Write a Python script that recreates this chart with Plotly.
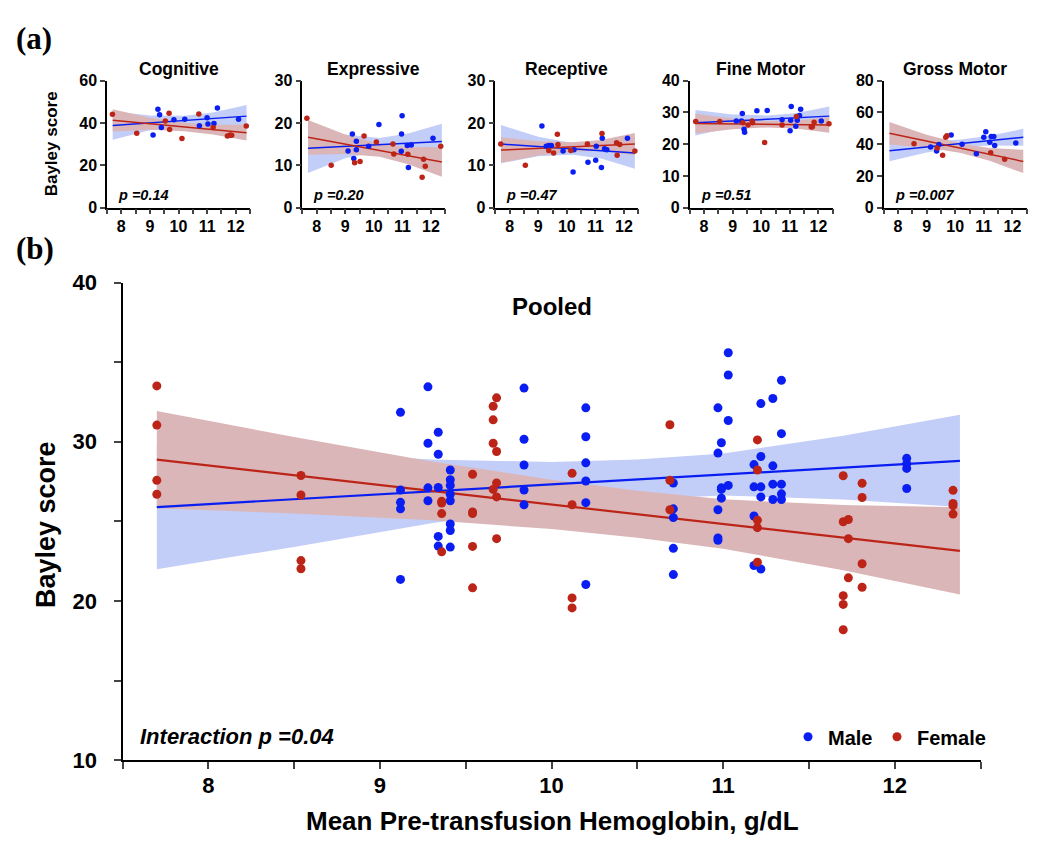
import plotly.graph_objects as go

# ---------------- DATA ----------------
# Pooled panel (b)
pooled_male_x = [9.12, 9.12, 9.12, 9.12, 9.12,
                 9.28, 9.28, 9.28, 9.28,
                 9.34, 9.34, 9.34, 9.34, 9.34,
                 9.41, 9.41, 9.41, 9.41, 9.41, 9.41, 9.41, 9.41,
                 9.84, 9.84, 9.84, 9.84, 9.84,
                 10.20, 10.20, 10.20, 10.20, 10.20, 10.20,
                 10.71, 10.71, 10.71, 10.71, 10.71,
                 10.97, 10.97, 10.97, 10.97, 10.97,
                 10.99, 10.99, 10.99, 10.99,
                 11.03, 11.03, 11.03, 11.03,
                 11.18, 11.18, 11.18, 11.18,
                 11.22, 11.22, 11.22, 11.22, 11.22,
                 11.29, 11.29, 11.29, 11.29,
                 11.34, 11.34, 11.34, 11.34, 11.34,
                 12.07, 12.07, 12.07, 12.07]
pooled_male_y = [31.85, 26.97, 26.20, 25.79, 21.36,
                 33.45, 29.91, 27.11, 26.30,
                 30.60, 29.22, 27.13, 24.06, 23.45,
                 28.23, 27.62, 27.26, 26.71, 26.30, 24.84, 24.43, 23.39,
                 33.37, 30.16, 28.54, 26.97, 26.04,
                 32.13, 30.32, 28.68, 27.54, 26.18, 21.04,
                 27.41, 25.79, 25.24, 23.31, 21.66,
                 32.13, 29.29, 25.73, 23.96, 23.82,
                 29.94, 27.11, 27.01, 26.46,
                 35.59, 34.19, 31.34, 27.26,
                 28.57, 27.17, 25.34, 22.23,
                 32.40, 29.08, 27.17, 26.54, 22.01,
                 32.72, 28.49, 27.34, 26.38,
                 33.86, 30.51, 27.34, 26.73, 26.38,
                 28.96, 28.63, 28.33, 27.07]
pooled_female_x = [7.70, 7.70, 7.70, 7.70,
                   8.54, 8.54, 8.54, 8.54,
                   9.36, 9.36, 9.36, 9.36,
                   9.54, 9.54, 9.54, 9.54, 9.54,
                   9.66, 9.66, 9.66, 9.66,
                   9.68, 9.68, 9.68, 9.68, 9.68,
                   10.12, 10.12, 10.12, 10.12,
                   10.69, 10.69, 10.69,
                   11.20, 11.20, 11.20, 11.20, 11.20,
                   11.70, 11.70, 11.70, 11.70, 11.70,
                   11.73, 11.73, 11.73,
                   11.81, 11.81, 11.81, 11.81,
                   12.34, 12.34, 12.34, 12.34]
pooled_female_y = [33.51, 31.05, 27.58, 26.71,
                   27.88, 26.66, 22.54, 22.03,
                   26.26, 26.16, 25.49, 23.09,
                   27.96, 25.59, 25.49, 23.43, 20.83,
                   32.23, 31.38, 29.91, 27.01,
                   32.76, 29.39, 27.41, 26.54, 23.92,
                   28.02, 26.05, 20.20, 19.57,
                   31.07, 27.58, 25.73,
                   30.12, 28.23, 25.08, 24.61, 22.44,
                   27.87, 24.98, 20.34, 19.79, 18.20,
                   25.12, 23.92, 21.46,
                   27.40, 26.50, 22.34, 20.87,
                   26.95, 26.13, 25.99, 25.46]
pooled_band_x = [7.70, 8.50, 9.30, 10.00, 10.50, 11.00, 11.70, 12.38]
pooled_male_fit = [25.90, 26.40, 26.89, 27.33, 27.64, 27.95, 28.38, 28.80]
pooled_male_lo = [22.00, 23.40, 24.89, 25.93, 26.39, 26.63, 26.38, 25.90]
pooled_male_hi = [29.80, 29.40, 28.89, 28.73, 28.89, 29.27, 30.38, 31.70]
pooled_female_fit = [28.88, 27.90, 26.92, 26.07, 25.45, 24.84, 23.98, 23.15]
pooled_female_lo = [25.83, 25.50, 25.07, 24.52, 23.97, 23.29, 21.93, 20.41]
pooled_female_hi = [31.93, 30.30, 28.77, 27.62, 26.93, 26.39, 26.03, 25.89]

# Sub-panels (a)
panel_titles = ["Cognitive", "Expressive", "Receptive", "Fine Motor", "Gross Motor"]
panel_ymax = [60, 30, 30, 40, 80]
panel_p = ["0.14", "0.20", "0.47", "0.51", "0.007"]
panel_band_x = [7.70, 9.00, 10.20, 11.20, 12.38]

cog_male_x = [9.11, 9.28, 9.34, 9.40, 9.84, 10.22, 10.73, 11.00, 11.03, 11.24, 11.36, 12.10]
cog_male_y = [34.3, 46.5, 43.8, 37.8, 41.5, 41.7, 38.7, 42.4, 39.5, 39.7, 47.0, 41.7]
cog_female_x = [7.69, 8.54, 9.54, 9.67, 9.69, 10.12, 10.71, 11.21, 11.71, 11.80, 11.86, 12.37]
cog_female_y = [44.1, 35.1, 40.9, 44.6, 36.9, 32.7, 44.2, 37.8, 33.8, 34.3, 34.2, 38.5]
cog_male_fit = [38.8, 40.02, 41.15, 42.09, 43.2]
cog_male_hw = [6.7, 3.5, 2.2, 2.8, 5.3]
cog_female_fit = [41.2, 39.59, 38.10, 36.86, 35.4]
cog_female_hw = [5.2, 2.8, 2.0, 2.3, 3.7]

exp_male_x = [9.10, 9.25, 9.30, 9.39, 9.39, 9.82, 10.18, 10.99, 10.97, 10.96, 11.17, 11.21, 11.31, 12.07]
exp_male_y = [13.35, 17.4, 11.6, 15.7, 13.7, 14.5, 19.6, 21.7, 17.4, 13.3, 14.7, 9.5, 14.8, 16.4]
exp_female_x = [7.66, 8.51, 9.33, 9.52, 9.66, 10.09, 10.67, 10.70, 11.19, 11.74, 11.69, 11.80, 12.34]
exp_female_y = [21.1, 10.0, 10.6, 10.9, 16.9, 15.5, 15.0, 12.7, 12.6, 11.45, 7.2, 9.8, 14.5]
exp_male_fit = [14.0, 14.44, 14.85, 15.20, 15.6]
exp_male_hw = [5.8, 2.8, 1.6, 2.3, 4.2]
exp_female_fit = [16.6, 14.99, 13.50, 12.26, 10.8]
exp_female_hw = [4.1, 2.3, 1.5, 2.0, 3.5]

rec_male_x = [9.13, 9.28, 9.37, 9.46, 9.87, 10.22, 10.25, 10.74, 11.01, 11.03, 11.24, 11.21, 11.32, 11.40, 12.12]
rec_male_y = [19.3, 14.5, 14.65, 14.7, 13.4, 8.4, 13.7, 10.7, 11.2, 14.5, 16.4, 9.5, 13.9, 13.7, 16.4]
rec_female_x = [7.69, 8.55, 9.37, 9.54, 9.67, 9.69, 10.14, 10.72, 11.23, 11.74, 11.76, 11.85, 12.38]
rec_female_y = [15.0, 10.0, 13.5, 12.9, 17.3, 14.9, 13.5, 15.0, 17.5, 15.3, 12.4, 14.9, 13.35]
rec_male_fit = [15.0, 14.42, 13.88, 13.43, 12.9]
rec_male_hw = [4.5, 2.3, 1.4, 1.8, 3.7]
rec_female_fit = [13.6, 13.99, 14.35, 14.65, 15.0]
rec_female_hw = [3.0, 1.7, 1.1, 1.3, 2.6]

fine_male_x = [9.13, 9.31, 9.34, 9.40, 9.42, 9.85, 10.21, 10.73, 11.01, 11.03, 11.05, 11.21, 11.26, 11.34, 11.38, 12.10]
fine_male_y = [27.3, 27.3, 29.6, 24.7, 23.7, 30.5, 30.6, 27.7, 24.2, 27.5, 31.8, 25.6, 27.5, 29.0, 31.0, 27.3]
fine_female_x = [7.71, 8.55, 9.36, 9.54, 9.68, 9.70, 10.12, 10.73, 11.23, 11.75, 11.79, 11.85, 12.37]
fine_female_y = [27.1, 27.1, 26.7, 26.0, 27.3, 26.7, 20.5, 26.0, 28.7, 25.4, 25.5, 26.9, 26.4]
fine_male_fit = [26.7, 27.28, 27.82, 28.27, 28.8]
fine_male_hw = [4.0, 2.0, 1.2, 1.4, 3.0]
fine_female_fit = [26.45, 26.34, 26.24, 26.15, 26.05]
fine_female_hw = [3.1, 1.7, 1.0, 1.2, 2.5]

gross_male_x = [9.14, 9.35, 9.43, 9.86, 10.24, 10.74, 11.00, 11.07, 11.21, 11.26, 11.35, 11.38, 12.12]
gross_male_y = [38.2, 35.6, 39.7, 45.8, 39.9, 34.0, 44.3, 47.8, 41.1, 44.8, 44.8, 39.1, 40.7]
gross_female_x = [8.56, 9.37, 9.56, 9.67, 9.71, 11.24, 11.73]
gross_female_y = [40.3, 37.6, 33.0, 44.3, 45.2, 34.6, 30.5]
gross_male_fit = [35.8, 38.21, 40.44, 42.21, 44.3]
gross_male_hw = [6.6, 3.5, 2.4, 3.0, 5.3]
gross_female_fit = [46.8, 41.88, 37.35, 33.56, 29.1]
gross_female_hw = [7.1, 4.0, 3.0, 4.0, 7.3]

x_tick_vals = [7.5, 8, 8.5, 9, 9.5, 10, 10.5, 11, 11.5, 12, 12.5]
x_tick_text = ["", "8", "", "9", "", "10", "", "11", "", "12", ""]
pooled_y_tick_vals = [10, 15, 20, 25, 30, 35, 40]
pooled_y_tick_text = ["10", "", "20", "", "30", "", "40"]

# ---------------- STYLE ----------------
W, H = 1050, 868
BLUE = "#0a1ef2"
RED = "#bc2418"
BLUE_BAND = "#c2cef7"
RED_BAND = "#dbb6b8"
FONT = "Liberation Sans, Arial, Helvetica, sans-serif"
SERIF = "Liberation Serif, Times New Roman, serif"


def fx(px):
    return px / W


def fy(py):
    return 1 - py / H


fig = go.Figure()


def add_group(xa, ya, band_x, m_x, m_y, f_x, f_y, m_fit, m_lo, m_hi, f_fit, f_lo, f_hi,
              msize, lw, legend):
    fig.add_trace(go.Scatter(x=band_x + band_x[::-1], y=m_hi + m_lo[::-1], fill="toself",
                             fillcolor=BLUE_BAND, line=dict(width=0), mode="lines",
                             hoverinfo="skip", showlegend=False, xaxis=xa, yaxis=ya))
    fig.add_trace(go.Scatter(x=band_x + band_x[::-1], y=f_hi + f_lo[::-1], fill="toself",
                             fillcolor=RED_BAND, line=dict(width=0), mode="lines",
                             hoverinfo="skip", showlegend=False, xaxis=xa, yaxis=ya))
    fig.add_trace(go.Scatter(x=band_x, y=m_fit, mode="lines", line=dict(color=BLUE, width=lw),
                             showlegend=False, xaxis=xa, yaxis=ya))
    fig.add_trace(go.Scatter(x=band_x, y=f_fit, mode="lines", line=dict(color=RED, width=lw),
                             showlegend=False, xaxis=xa, yaxis=ya))
    fig.add_trace(go.Scatter(x=m_x, y=m_y, mode="markers", name="<b>Male</b>",
                             marker=dict(color=BLUE, size=msize), showlegend=legend,
                             legendwidth=44, xaxis=xa, yaxis=ya))
    fig.add_trace(go.Scatter(x=f_x, y=f_y, mode="markers", name="<b>Female</b>",
                             marker=dict(color=RED, size=msize), showlegend=legend,
                             legendwidth=80, xaxis=xa, yaxis=ya))


# pooled
add_group("x", "y", pooled_band_x, pooled_male_x, pooled_male_y, pooled_female_x, pooled_female_y,
          pooled_male_fit, pooled_male_lo, pooled_male_hi,
          pooled_female_fit, pooled_female_lo, pooled_female_hi, 9, 2.2, True)

panels = [
    (cog_male_x, cog_male_y, cog_female_x, cog_female_y, cog_male_fit, cog_male_hw, cog_female_fit, cog_female_hw),
    (exp_male_x, exp_male_y, exp_female_x, exp_female_y, exp_male_fit, exp_male_hw, exp_female_fit, exp_female_hw),
    (rec_male_x, rec_male_y, rec_female_x, rec_female_y, rec_male_fit, rec_male_hw, rec_female_fit, rec_female_hw),
    (fine_male_x, fine_male_y, fine_female_x, fine_female_y, fine_male_fit, fine_male_hw, fine_female_fit, fine_female_hw),
    (gross_male_x, gross_male_y, gross_female_x, gross_female_y, gross_male_fit, gross_male_hw, gross_female_fit, gross_female_hw),
]
panel_axis_px = [99, 294.3, 487.3, 681.7, 875.7]
PANEL_W = 143
PANEL_TOP, PANEL_BOT = 62.3, 193.3

layout = dict(
    width=W, height=H, margin=dict(l=0, r=0, t=0, b=0),
    paper_bgcolor="white", plot_bgcolor="white",
    font=dict(family=FONT, color="black"),
    showlegend=True,
    legend=dict(orientation="h", x=fx(780), y=fy(738), xanchor="left", yanchor="middle",
                font=dict(family=FONT, size=20, color="black"), bgcolor="rgba(0,0,0,0)",
                itemwidth=30, traceorder="normal"),
    xaxis=dict(domain=[fx(114.5), fx(972.5)], range=[7.5, 12.5], tickvals=x_tick_vals,
               ticktext=x_tick_text, ticks="outside", ticklen=7, tickwidth=2, showline=True,
               linewidth=2, linecolor="black", showgrid=False, zeroline=False,
               tickfont=dict(size=22, weight="bold"), ticklabelstandoff=-3, anchor="y"),
    yaxis=dict(domain=[fy(762.3), fy(270.3)], range=[10, 40], tickvals=pooled_y_tick_vals,
               ticktext=pooled_y_tick_text, ticks="outside", ticklen=7, tickwidth=2, showline=True,
               linewidth=2, linecolor="black", showgrid=False, zeroline=False,
               tickfont=dict(size=22, weight="bold"), ticklabelstandoff=12, anchor="x"),
)

annotations = []
for i, (pd_, title, ymax, pval, ax_px) in enumerate(zip(panels, panel_titles, panel_ymax, panel_p, panel_axis_px)):
    n = i + 2
    mx, my, fxs, fys, mfit, mhw, ffit, fhw = pd_
    m_lo = [a - b for a, b in zip(mfit, mhw)]
    m_hi = [a + b for a, b in zip(mfit, mhw)]
    f_lo = [a - b for a, b in zip(ffit, fhw)]
    f_hi = [a + b for a, b in zip(ffit, fhw)]
    add_group(f"x{n}", f"y{n}", panel_band_x, mx, my, fxs, fys, mfit, m_lo, m_hi,
              ffit, f_lo, f_hi, 5.5, 1.5, False)
    layout[f"xaxis{n}"] = dict(domain=[fx(ax_px), fx(ax_px + PANEL_W)], range=[7.5, 12.5],
                               tickvals=x_tick_vals, ticktext=x_tick_text, ticks="outside",
                               ticklen=5, tickwidth=1.5, showline=True, linewidth=1.5,
                               linecolor="black", showgrid=False, zeroline=False,
                               tickfont=dict(size=16, weight="bold"), ticklabelstandoff=-2,
                               anchor=f"y{n}")
    layout[f"yaxis{n}"] = dict(domain=[fy(PANEL_BOT), fy(PANEL_TOP)], range=[0, ymax],
                               tickvals=[0, ymax / 3, 2 * ymax / 3, ymax] if ymax % 3 == 0 else
                               [0, ymax / 4, ymax / 2, 3 * ymax / 4, ymax],
                               ticks="outside", ticklen=5, tickwidth=1.5, showline=True,
                               linewidth=1.5, linecolor="black", showgrid=False, zeroline=False,
                               tickfont=dict(size=16, weight="bold"), anchor=f"x{n}")
    annotations.append(dict(text=f"<b>{title}</b>", x=fx(ax_px + PANEL_W / 2), y=fy(50),
                            xref="paper", yref="paper", showarrow=False,
                            font=dict(size=17.5, family=FONT), xanchor="center", yanchor="middle"))
    annotations.append(dict(text=f"<b><i>p ={pval}</i></b>", x=fx(ax_px + 9), y=fy(180),
                            xref="paper", yref="paper", showarrow=False,
                            font=dict(size=14.5, family=FONT), xanchor="left", yanchor="middle"))

annotations += [
    dict(text="<b>(a)</b>", x=fx(26), y=fy(19), xref="paper", yref="paper", showarrow=False,
         font=dict(size=31, family=SERIF), xanchor="center", yanchor="middle"),
    dict(text="<b>(b)</b>", x=fx(27), y=fy(235), xref="paper", yref="paper", showarrow=False,
         font=dict(size=31, family=SERIF), xanchor="center", yanchor="middle"),
    dict(text="<b>Bayley score</b>", x=fx(43), y=fy(128), xref="paper", yref="paper",
         showarrow=False, textangle=-90, font=dict(size=17, family=FONT),
         xanchor="center", yanchor="middle"),
    dict(text="<b>Bayley score</b>", x=fx(38), y=fy(520), xref="paper", yref="paper",
         showarrow=False, textangle=-90, font=dict(size=27, family=FONT),
         xanchor="center", yanchor="middle"),
    dict(text="<b>Pooled</b>", x=fx(543.5), y=fy(295), xref="paper", yref="paper",
         showarrow=False, font=dict(size=24, family=FONT), xanchor="center", yanchor="middle"),
    dict(text="<b><i>Interaction p =0.04</i></b>", x=fx(130), y=fy(738), xref="paper",
         yref="paper", showarrow=False, font=dict(size=22, family=FONT),
         xanchor="left", yanchor="middle"),
    dict(text="<b>Mean Pre-transfusion Hemoglobin, g/dL</b>", x=fx(544), y=fy(825),
         xref="paper", yref="paper", showarrow=False, font=dict(size=26, family=FONT),
         xanchor="center", yanchor="middle"),
]
layout["annotations"] = annotations

fig.update_layout(**layout)
fig.write_html("out.html")
